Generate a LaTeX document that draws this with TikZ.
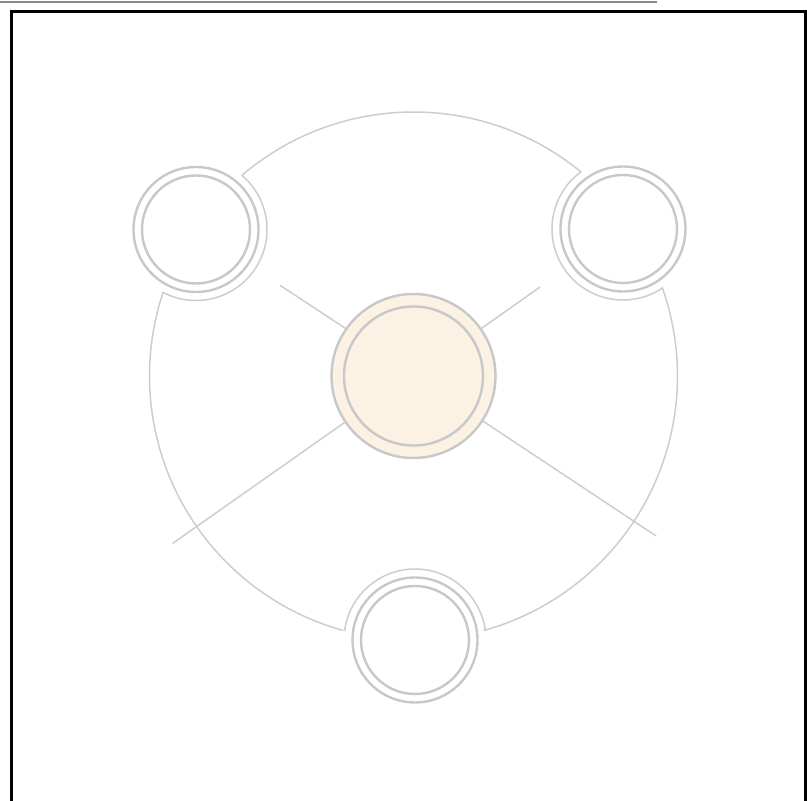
\documentclass[tikz,border=0pt]{standalone}
\usetikzlibrary{calc}
\definecolor{ringgray}{HTML}{C8C8C8}
\definecolor{thingray}{HTML}{CDCDCD}
\definecolor{hubfill}{HTML}{FCF2E4}
\definecolor{topgray}{HTML}{888888}
\tikzset{
  ring/.style={circle, draw=ringgray, line width=2.4pt, fill=white, inner sep=0pt, outer sep=0pt},
  hub/.style={circle, draw=ringgray, line width=2.4pt, fill=hubfill, inner sep=0pt, outer sep=0pt},
  thin/.style={draw=thingray, line width=1.5pt, line cap=round},
}
\begin{document}
\begin{tikzpicture}[x=1pt,y=1pt]
\useasboundingbox (0,0) rectangle (807,801);
% frame
\draw[topgray, line width=2.6pt] (0,799.1) -- (657,799.1);
\draw[black, line width=2.2pt] (11.5,-5) -- (11.5,789.5) -- (805.5,789.5) -- (805.5,-5);
\coordinate (O) at (413.5,425);
\coordinate (P1) at (196,571.5);
\coordinate (P2) at (623,572);
\coordinate (P3) at (415,161);
% big circle, broken at the three nodes
\draw[thin] ([shift={(50.6:264pt)}]O) arc[start angle=50.6, end angle=130.5, radius=264pt];
\draw[thin] ([shift={(161.5:264pt)}]O) arc[start angle=161.5, end angle=254.5, radius=264pt];
\draw[thin] ([shift={(285.5:264pt)}]O) arc[start angle=285.5, end angle=379.5, radius=264pt];
% detours around the small nodes
\draw[thin] ([shift={(49.7:71pt)}]P1) arc[start angle=49.7, end angle=-117.7, radius=71pt];
\draw[thin] ([shift={(172.3:71pt)}]P3) arc[start angle=172.3, end angle=7.7, radius=71pt];
\draw[thin] ([shift={(303.8:71pt)}]P2) arc[start angle=303.8, end angle=126.4, radius=71pt];
% spoke ends
\coordinate (s1) at ([shift={(145.8:161pt)}]O);
\coordinate (s2) at ([shift={(35.1:154.5pt)}]O);
\coordinate (s3) at ([shift={(214.8:293pt)}]O);
\coordinate (s4) at ([shift={(-33.4:290.5pt)}]O);
% central hub
\node[hub, minimum size=164pt] (c) at (O) {};
\node[hub, minimum size=139pt] (cin) at (O) {};
\draw[thin] (c.145.8) -- (s1);
\draw[thin] (c.35.1) -- (s2);
\draw[thin] (c.214.8) -- (s3);
\draw[thin] (c.-33.4) -- (s4);
% small nodes
\node[ring, minimum size=125pt] (tl) at (P1) {};
\node[ring, minimum size=108pt] (tlin) at (P1) {};
\node[ring, minimum size=125pt] (tr) at (P2) {};
\node[ring, minimum size=108pt] (trin) at (P2) {};
\node[ring, minimum size=125pt] (bt) at (P3) {};
\node[ring, minimum size=108pt] (btin) at (P3) {};
\end{tikzpicture}
\end{document}
